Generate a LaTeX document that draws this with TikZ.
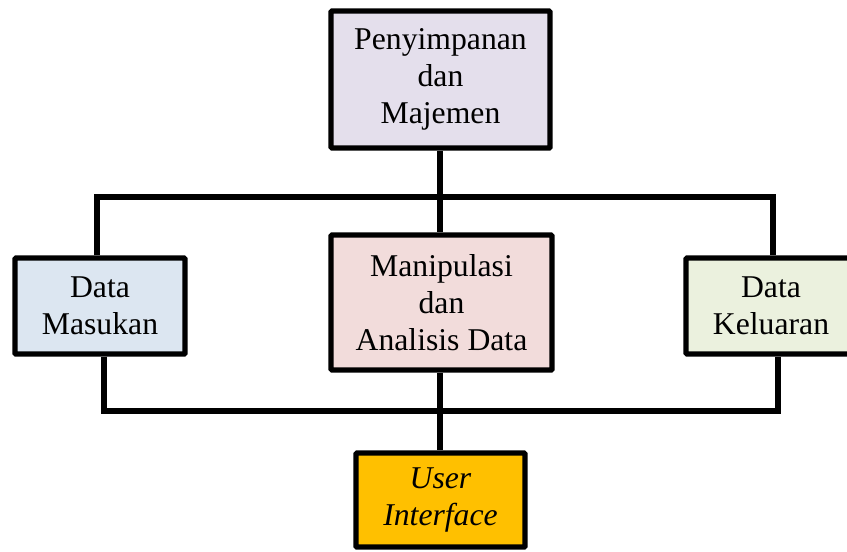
\documentclass[tikz,border=0pt]{standalone}
\usepackage{fontspec}
\setmainfont{Liberation Serif}
\definecolor{storefill}{HTML}{E4DFEC}
\definecolor{infill}{HTML}{DCE6F1}
\definecolor{anafill}{HTML}{F2DCDB}
\definecolor{outfill}{HTML}{EBF1DE}
\definecolor{uifill}{HTML}{FFC000}
\begin{document}
\begin{tikzpicture}[x=1pt,y=-1pt,
  block/.style={draw=black,line width=5.3pt,rounded corners=1pt,inner sep=0pt,
    align=center,font=\fontsize{31.7}{37}\selectfont},
  link/.style={draw=black,line width=5.3pt,line join=miter}]
\useasboundingbox (0,0) rectangle (847,552);
% boxes
\node[block,fill=storefill,minimum width=219pt,minimum height=137pt] (store) at (440.5,79.5) {Penyimpanan\\dan\\Majemen};
\node[block,fill=infill,minimum width=170pt,minimum height=96pt] (input) at (100,306) {Data\\Masukan};
\node[block,fill=anafill,minimum width=221pt,minimum height=135pt] (analysis) at (441.5,302.5) {Manipulasi\\dan\\Analisis Data};
\node[block,fill=outfill,minimum width=170pt,minimum height=96pt] (output) at (771,306) {Data\\Keluaran};
\node[block,fill=uifill,minimum width=169pt,minimum height=94pt] (ui) at (440.5,500) {\itshape User\\\itshape Interface};
% bus lines
\coordinate (topL) at (97,197);
\coordinate (topR) at (773,197);
\coordinate (botL) at (104,411);
\coordinate (botR) at (778,411);
\draw[link] (store.south -| 440,0) -- (analysis.north -| 440,0);
\draw[link] (input.north -| topL) -- (topL) -- (topR) -- (output.north -| topR);
\draw[link] (input.south -| botL) -- (botL) -- (botR) -- (output.south -| botR);
\draw[link] (analysis.south -| 440,0) -- (ui.north -| 440,0);
\end{tikzpicture}
\end{document}
